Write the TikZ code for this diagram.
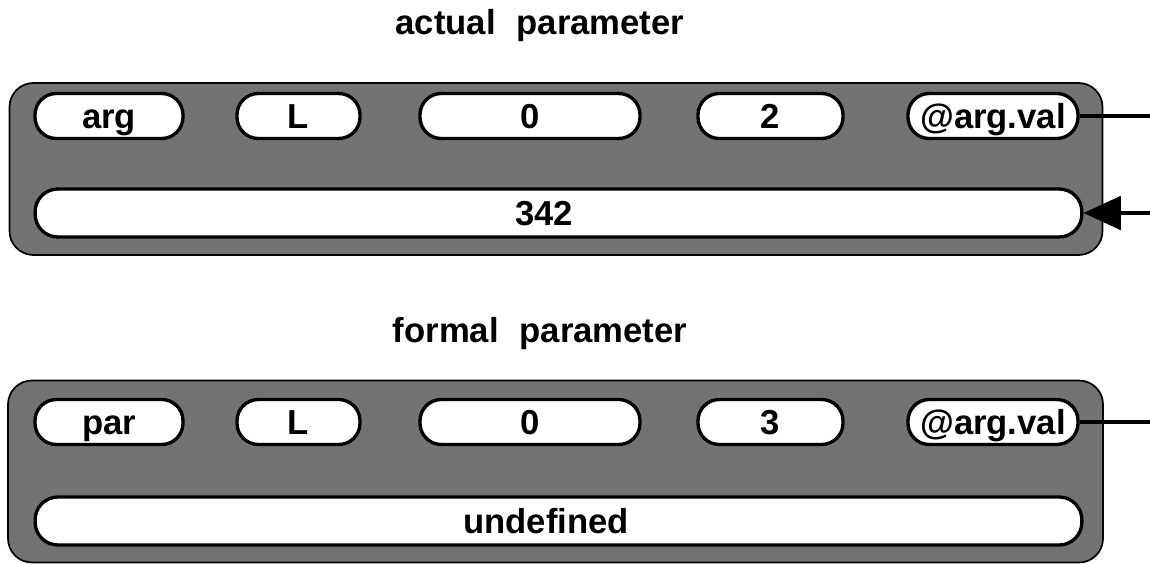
\documentclass[tikz,border=0pt]{standalone}
\usepackage{fontspec}
\setmainfont{Liberation Sans}
\usetikzlibrary{arrows.meta}
\begin{document}
\begin{tikzpicture}[x=0.75pt,y=-0.75pt,
  font=\fontsize{26pt}{30pt}\selectfont\bfseries,
  panel/.style={draw=black, line width=1.3pt, fill=black!55,
    rounded corners=18pt, inner sep=0pt},
  pill/.style={draw=black, line width=2.5pt, fill=white,
    rounded corners=16pt, inner sep=0pt,
    text height=18.6pt, text depth=0pt,
    minimum height=33.75pt},
  bigpill/.style={pill, minimum height=36pt, minimum width=785pt,
    rounded corners=17pt},
  label/.style={inner sep=0pt, text height=18.6pt, text depth=0pt},
  wire/.style={line width=3.2pt},
  title/.style={inner sep=0pt, anchor=base}]
\useasboundingbox (0,0) rectangle (1150,564);

% ---- actual parameter ----
\node[title] (t1) at (540,35) {actual\hspace{0.6em}parameter};
\node[panel, minimum width=819.75pt, minimum height=129pt] (p1) at (556,169) {};
\node[pill, minimum width=111pt]    (a1) at (109,116)   {arg};
\node[pill, minimum width=92.25pt]  (a2) at (298.5,116) {L};
\node[pill, minimum width=165pt]    (a3) at (530,116)   {0};
\node[pill, minimum width=108.75pt] (a4) at (770.5,116) {2};
\node[pill, minimum width=127.5pt]  (a5) at (993,116)   {@arg.val};
\node[bigpill] (a6) at (558.5,213) {};
\node[label] (a6t) at (544,213) {342};

\coordinate (o1) at (1150,116);
\coordinate (i1) at (1150,213);
\draw[wire] (a5.east) -- (o1);
\draw[wire, -{Triangle[length=28pt, width=25pt]}] (i1) -- (a6.east);

% ---- formal parameter ----
\node[title] (t2) at (540,342) {formal\hspace{0.6em}parameter};
\node[panel, minimum width=821.25pt, minimum height=136.5pt] (p2) at (555.5,471.5) {};
\node[pill, minimum width=111pt]    (b1) at (109,422)   {par};
\node[pill, minimum width=92.25pt]  (b2) at (298.5,422) {L};
\node[pill, minimum width=165pt]    (b3) at (530,422)   {0};
\node[pill, minimum width=108.75pt] (b4) at (770.5,422) {3};
\node[pill, minimum width=127.5pt]  (b5) at (993,422)   {@arg.val};
\node[bigpill] (b6) at (558.5,521) {};
\node[label] (b6t) at (546,521) {undefined};

\coordinate (o2) at (1150,422);
\draw[wire] (b5.east) -- (o2);
\end{tikzpicture}
\end{document}
